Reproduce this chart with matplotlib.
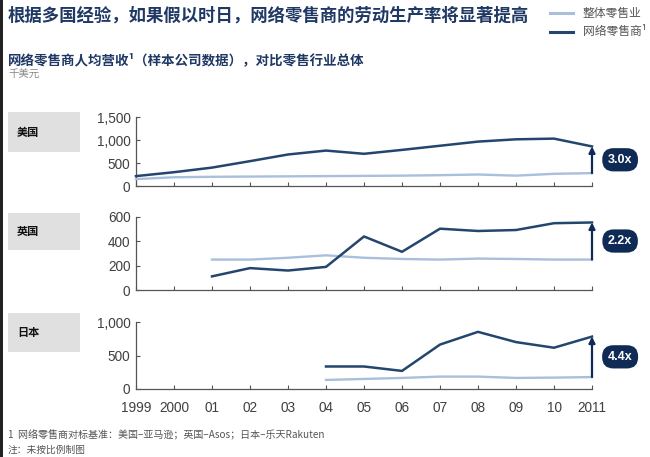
import numpy as np
import matplotlib
matplotlib.use("Agg")
import matplotlib.pyplot as plt
from matplotlib.patches import Rectangle
from matplotlib.lines import Line2D

plt.rcParams['font.family'] = ['Noto Sans CJK SC', 'DejaVu Sans']

years = list(range(1999, 2012))
year_labels = ['1999', '2000', '01', '02', '03', '04', '05', '06', '07', '08', '09', '10', '2011']

# 美国 (亚马逊)
us_years = list(range(1999, 2012))
us_online = [215, 300, 400, 540, 685, 770, 700, 785, 875, 965, 1015, 1030, 860]
us_retail = [150, 190, 200, 205, 210, 215, 220, 225, 235, 250, 225, 265, 280]

# 英国 (Asos)
uk_years = list(range(2001, 2012))
uk_online = [112, 180, 160, 190, 440, 314, 504, 485, 493, 549, 555]
uk_retail = [250, 250, 265, 285, 265, 255, 250, 258, 255, 250, 250]

# 日本 (乐天)
jp_years = list(range(2004, 2012))
jp_online = [336, 336, 270, 663, 853, 700, 616, 782]
jp_retail = [135, 150, 165, 185, 185, 165, 170, 178]

panels = [
    ('美国', us_years, us_online, us_retail, [0, 500, 1000, 1500], ['0', '500', '1,000', '1,500'], '3.0x'),
    ('英国', uk_years, uk_online, uk_retail, [0, 200, 400, 600], ['0', '200', '400', '600'], '2.2x'),
    ('日本', jp_years, jp_online, jp_retail, [0, 500, 1000], ['0', '500', '1,000'], '4.4x'),
]

W, H = 650, 457
dark = '#24466e'
light = '#a9bfdc'
navy = '#0f2a55'
grey_txt = '#404040'

fig = plt.figure(figsize=(6.5, 4.57), dpi=100)

# axes in pixels: (y of zero, y of max)
boxes = [(186, 117), (290, 217), (389, 322)]
label_boxes = [(112, 152), (213, 250), (313, 352)]
x0, x1 = 136, 592

for (name, xs, online, retail, yt, ytl, ratio), (yb, ytop), (lb_t, lb_b) in zip(panels, boxes, label_boxes):
    ax = fig.add_axes([x0 / W, 1 - yb / H, (x1 - x0) / W, (yb - ytop) / H])
    ax.plot(xs, retail, color=light, lw=1.7, clip_on=False, zorder=3)
    ax.plot(xs, online, color=dark, lw=1.8, clip_on=False, zorder=4)
    ax.set_xlim(1999, 2011)
    ax.set_ylim(yt[0], yt[-1])
    ax.set_yticks(yt)
    ax.set_yticklabels(ytl, family='Liberation Sans', fontsize=9.8, color=grey_txt)
    ax.set_xticks(years)
    ax.set_xticklabels(year_labels, family='Liberation Sans', fontsize=9.8, color=grey_txt)
    ax.tick_params(axis='both', direction='in', length=3, width=0.8, color='#555555', pad=4)
    ax.tick_params(axis='x', labelbottom=False, pad=9)
    for s in ['top', 'right']:
        ax.spines[s].set_visible(False)
    for s in ['left', 'bottom']:
        ax.spines[s].set_color('#555555')
        ax.spines[s].set_linewidth(0.9)
    ax.patch.set_alpha(0)

    # arrow + badge
    ax.annotate('', xy=(2011, online[-1]), xytext=(2011, retail[-1]),
                arrowprops=dict(arrowstyle='-|>', color=navy, lw=1.6,
                                mutation_scale=9, shrinkA=0, shrinkB=0),
                annotation_clip=False, zorder=5)
    ax.text(2011.74, (online[-1] + retail[-1]) / 2, ratio, ha='center', va='center',
            color='white', fontsize=9, fontweight='bold', family='Liberation Sans',
            bbox=dict(boxstyle='round,pad=0.45,rounding_size=0.9', fc=navy, ec='none'),
            clip_on=False)

    # country label box
    fig.add_artist(Rectangle((8 / W, 1 - lb_b / H), 72 / W, (lb_b - lb_t) / H,
                             transform=fig.transFigure, fc='#e0e0e0', ec='none'))
    fig.text(17 / W, 1 - (lb_t + lb_b) / 2 / H, name, fontsize=8, fontweight='bold',
             color='#111111', va='center', ha='left')

    last_ax = ax

last_ax.tick_params(axis='x', labelbottom=True)

# titles
fig.text(8 / W, 1 - 16 / H, '根据多国经验，如果假以时日，网络零售商的劳动生产率将显著提高',
         fontsize=12.5, fontweight='bold', color='#1f3864', va='center', ha='left')
fig.text(8 / W, 1 - 60 / H, '网络零售商人均营收¹（样本公司数据），对比零售行业总体',
         fontsize=9.7, fontweight='bold', color='#1f3864', va='center', ha='left')
fig.text(8 / W, 1 - 75 / H, '千美元', fontsize=7.5, color='#888888', va='center', ha='left')

# legend
fig.add_artist(Line2D([550 / W, 573 / W], [1 - 13 / H, 1 - 13 / H], color=light, lw=2.2,
                      transform=fig.transFigure))
fig.add_artist(Line2D([550 / W, 573 / W], [1 - 32 / H, 1 - 32 / H], color=dark, lw=2.2,
                      transform=fig.transFigure))
fig.text(583 / W, 1 - 13 / H, '整体零售业', fontsize=8.5, color='#555555', va='center', ha='left')
fig.text(583 / W, 1 - 32 / H, '网络零售商¹', fontsize=8.5, color='#555555', va='center', ha='left')

# footnotes
fig.text(8 / W, 1 - 435 / H, '1  网络零售商对标基准：美国–亚马逊；英国–Asos；日本–乐天Rakuten',
         fontsize=7.2, color='#555555', va='center', ha='left')
fig.text(8 / W, 1 - 450 / H, '注：未按比例制图', fontsize=7, color='#555555', va='center', ha='left')

# left dark border
fig.add_artist(Rectangle((0, 0), 3 / W, 1, transform=fig.transFigure, fc='#222222', ec='none'))

fig.savefig('out.png', dpi=100)
